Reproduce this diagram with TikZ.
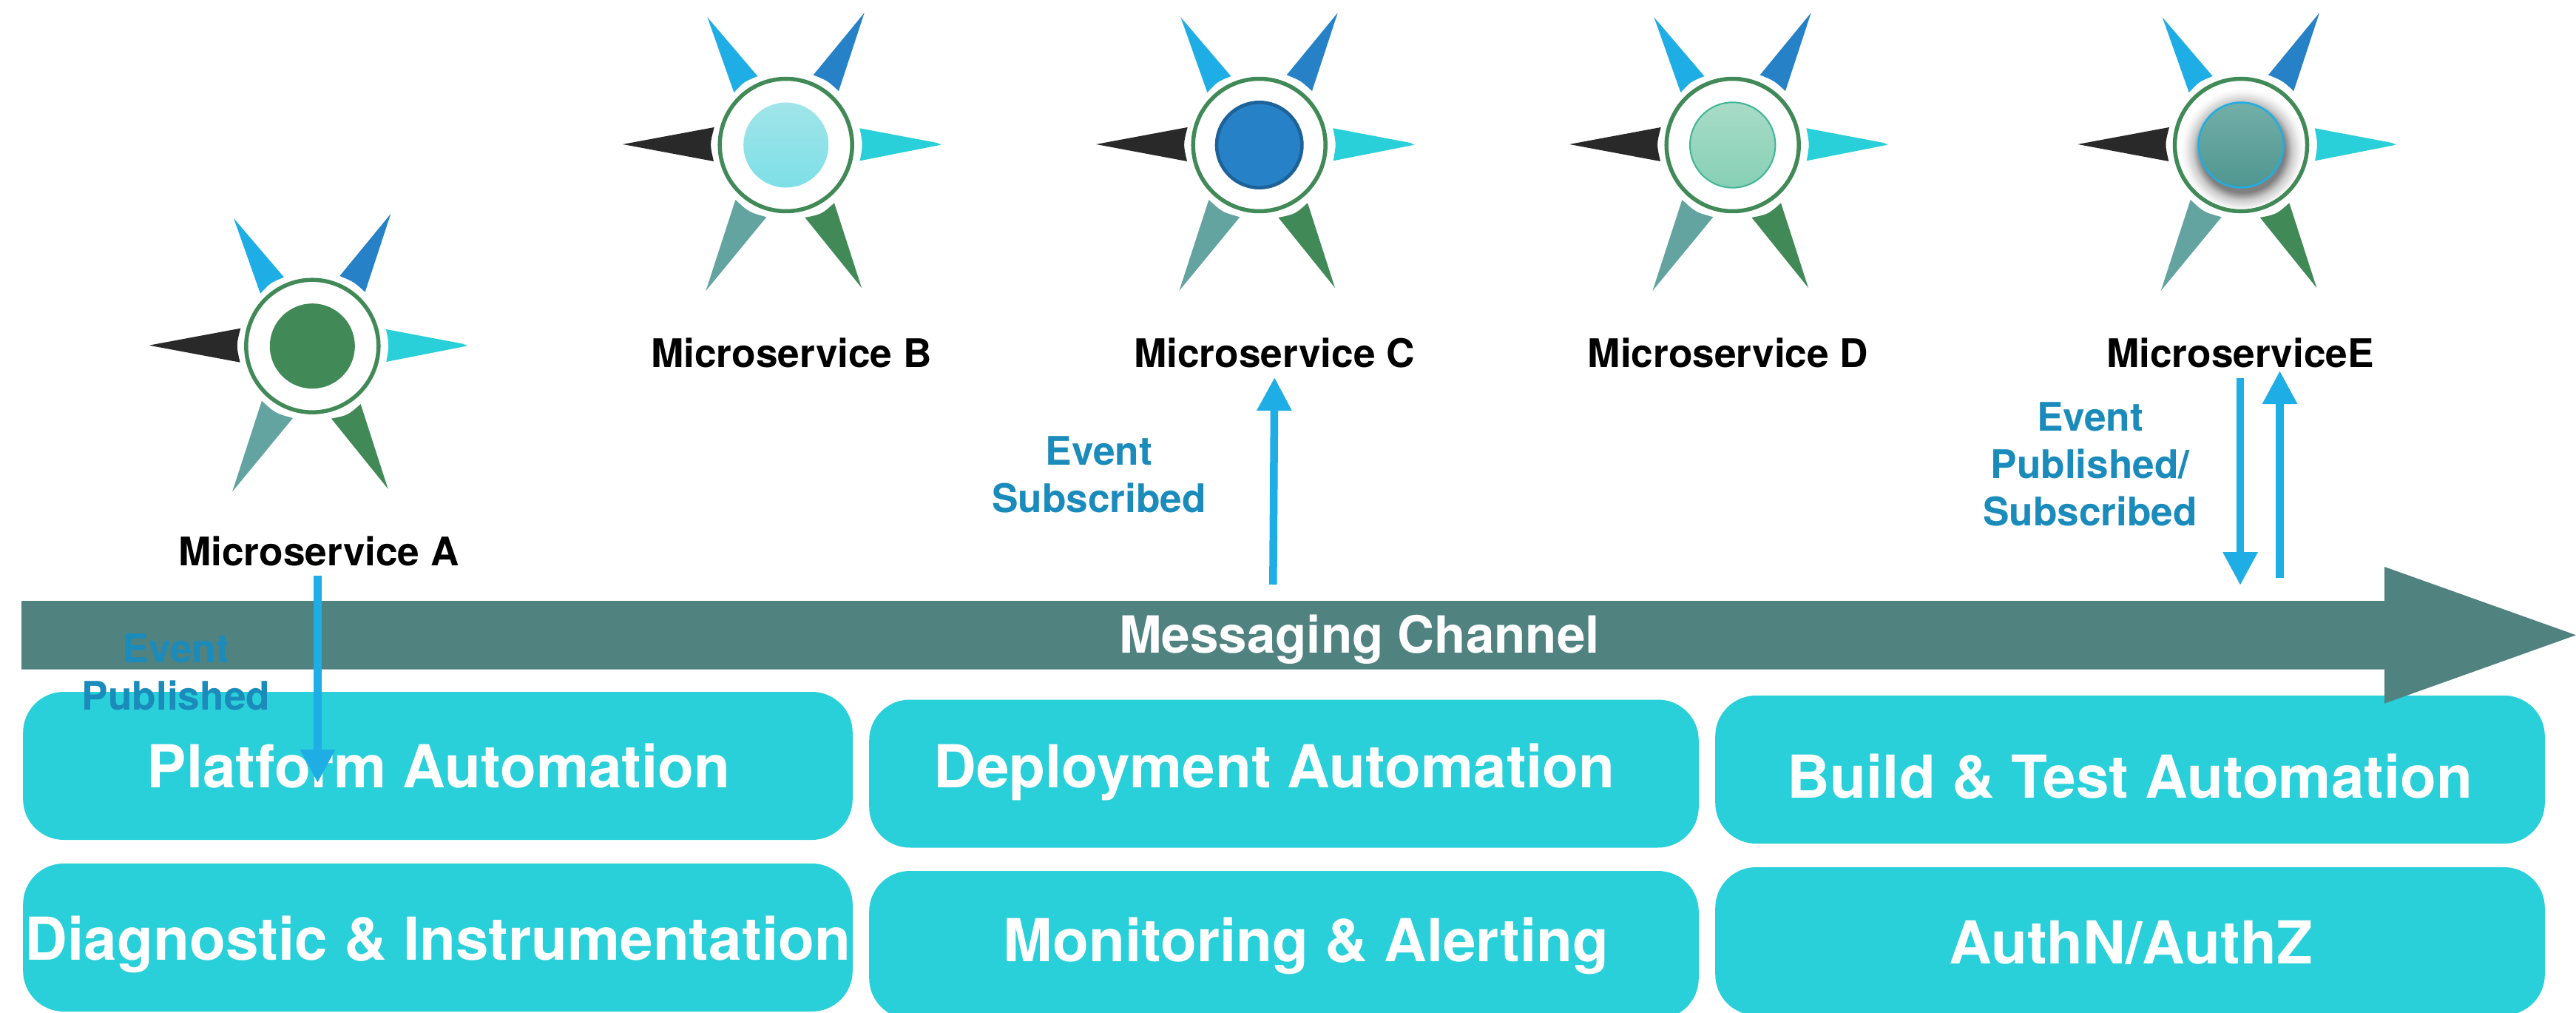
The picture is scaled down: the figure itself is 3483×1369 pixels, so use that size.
\documentclass[tikz,border=0pt]{standalone}
\usepackage{fontspec}
\setmainfont{TeX Gyre Heros}
\usetikzlibrary{arrows.meta}
\definecolor{cGreen}{HTML}{418A58}
\definecolor{cSky}{HTML}{1EADE4}
\definecolor{cBlue}{HTML}{2681C6}
\definecolor{cTeal}{HTML}{63A4A0}
\definecolor{cBlack}{HTML}{292929}
\definecolor{cCyan}{HTML}{29CFD9}
\definecolor{cBar}{HTML}{508280}
\definecolor{cEvent}{HTML}{1A8BBB}
\definecolor{cRimC}{HTML}{1D6299}
\definecolor{cRimD}{HTML}{3EB594}
\definecolor{cBtop}{HTML}{A0E5E9}
\definecolor{cBbot}{HTML}{7EDFE7}
\definecolor{cDtop}{HTML}{A8DBC8}
\definecolor{cDbot}{HTML}{86D0B5}
\definecolor{cEtop}{HTML}{72AFA8}
\definecolor{cEbot}{HTML}{509690}
\pgfdeclareradialshading{shring}{\pgfpoint{0bp}{0bp}}{
  color(0bp)=(black!50);
  color(17bp)=(black!50);
  color(20bp)=(black!20);
  color(23bp)=(black!5);
  color(25bp)=(white);
  color(50bp)=(white)}
\tikzset{
  mstar/.pic={
    \fill[cBlack] (-220.7,-1) -- (-97,-24) .. controls (-103,-1) .. (-97.7,22) -- cycle;
    \fill[cCyan] (99.7,-22.7) -- (204,-3) -- (209.7,-0.3) -- (100,21.3) .. controls (104,-1) .. cycle;
    \fill[cSky] (-106.3,-172.7) -- (-38.3,-93) .. controls (-56.7,-85.6) .. (-70.3,-71) -- cycle;
    \fill[cBlue] (106,-178.7) -- (71.3,-73) .. controls (56.1,-86.9) .. (37,-94.7) -- cycle;
    \fill[cTeal] (-108.3,197) -- (-68.3,74) .. controls (-50.1,90.8) .. (-26.3,97.3) -- cycle;
    \fill[cGreen] (102.3,193) -- (25.7,98) .. controls (48.2,93.5) .. (65.3,78.3) -- cycle;
    \draw[cGreen,line width=2.75pt,fill=white] (0,0) circle (89.5);
  },
  svc/.style={font=\fontsize{26.6pt}{30pt}\selectfont\bfseries,text=black,anchor=base,inner sep=0pt},
  evt/.style={font=\fontsize{26.6pt}{32pt}\selectfont\bfseries,text=cEvent,anchor=base,inner sep=0pt,align=center},
  plate/.style={fill=cCyan,rounded corners=27.5pt,minimum width=560.8pt,minimum height=100pt,inner sep=0pt},
  platetxt/.style={font=\fontsize{40pt}{46pt}\selectfont\bfseries,text=white,anchor=base,inner sep=0pt},
  flow/.style={draw=cSky,line width=5.25pt,-{Triangle[length=22.5pt,width=22.3pt]}},
}
\begin{document}
\begin{tikzpicture}[x=0.5pt,y=-0.5pt]
\useasboundingbox (0,0) rectangle (3483,1369);
% plates
\node[plate] (p1) at (592,1035) {};
\node[plate] (p2) at (1736,1045.5) {};
\node[plate] (p3) at (2880,1040) {};
\node[plate] (p4) at (592,1267) {};
\node[plate] (p5) at (1736,1277) {};
\node[plate] (p6) at (2880,1272) {};
\node[platetxt] (t1) at (593,1064) {Platform Automation};
\node[platetxt] (t2) at (1723,1064) {Deployment Automation};
\node[platetxt] (t3) at (2880,1078) {Build \& Test Automation};
\node[platetxt] (t4) at (592,1297) {Diagnostic \& Instrumentation};
\node[platetxt] (t5) at (1766,1299) {Monitoring \& Alerting};
\node[platetxt] (t6) at (2881,1302) {AuthN/AuthZ};
% channel
\fill[cBar] (29,812) -- (3224,812) -- (3224,766) -- (3483,858.3) -- (3224,950.7) -- (3224,904.5) -- (29,904.5) -- cycle;
\node[font=\fontsize{34.6pt}{40pt}\selectfont\bfseries,text=white,anchor=base,inner sep=0pt] (chan) at (1838,882) {Messaging Channel};
% stars
\coordinate (sa) at (422.3,467.7);
\coordinate (sb) at (1062.7,196);
\coordinate (sc) at (1702.7,196);
\coordinate (sd) at (2342.7,196);
\coordinate (se) at (3030,196);
\path (sa) pic {mstar};
\path (sb) pic {mstar};
\path (sc) pic {mstar};
\path (sd) pic {mstar};
\path (se) pic {mstar};
\fill[cGreen] (sa) circle (57.5);
\shade[top color=cBtop,bottom color=cBbot] (sb) circle (57.5);
\draw[draw=cRimC,fill=cBlue,line width=2.3pt] (sc) circle (57.7);
\shade[draw=cRimD,line width=1pt,top color=cDtop,bottom color=cDbot] (sd) circle (57.7);
\begin{scope}
\clip (se) circle (86.5);
\path[shading=shring] ([xshift=1pt,yshift=-3.5pt]se) circle (84);
\end{scope}
\shade[draw=cSky,line width=1.25pt,top color=cEtop,bottom color=cEbot] (se) circle (57.5);
% service labels
\node[svc] (ma) at (431,764) {Microservice A};
\node[svc] (mb) at (1070,496) {Microservice B};
\node[svc] (mc) at (1723,496) {Microservice C};
\node[svc] (md) at (2336.5,496) {Microservice D};
\node[svc] (me) at (3029,496) {MicroserviceE};
% event labels
\node[evt] (ea) at (238,959) {Event\\Published};
\node[evt] (ec) at (1486,692) {Event\\Subscribed};
\node[evt] (ee) at (2826,710) {Event\\Published/\\Subscribed};
% flows
\coordinate (fa0) at (429.5,778);
\coordinate (fa1) at (429.5,1058);
\coordinate (fc0) at (1721.3,790);
\coordinate (fc1) at (1723.3,510);
\coordinate (fd0) at (3029,511);
\coordinate (fd1) at (3029,791);
\coordinate (fu0) at (3082.5,781);
\coordinate (fu1) at (3082.5,501);
\draw[flow] (fa0) -- (fa1);
\draw[flow] (fc0) -- (fc1);
\draw[flow] (fd0) -- (fd1);
\draw[flow] (fu0) -- (fu1);
\end{tikzpicture}
\end{document}
